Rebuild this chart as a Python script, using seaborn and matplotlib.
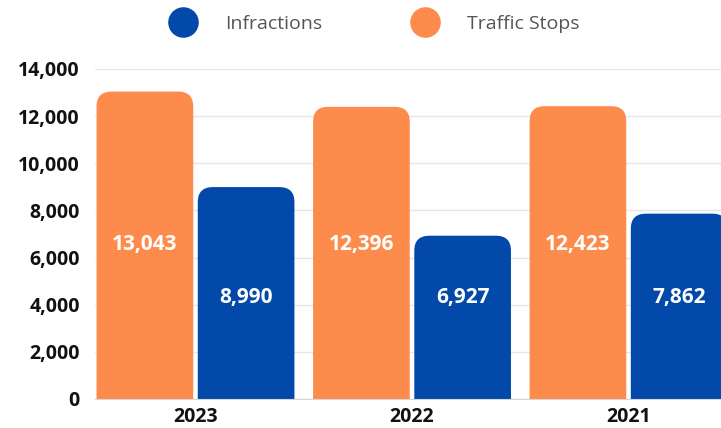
import matplotlib
matplotlib.use('Agg')
import matplotlib.pyplot as plt
import seaborn as sns
import pandas as pd
from matplotlib.patches import FancyBboxPatch
from matplotlib.lines import Line2D
from matplotlib.ticker import FuncFormatter

years = ['2023', '2022', '2021']
traffic_stops = [13043, 12396, 12423]
infractions = [8990, 6927, 7862]
series = ['Traffic Stops', 'Infractions']
colors = {'Traffic Stops': '#FD8C4C', 'Infractions': '#0249AA'}
label_y = {'Traffic Stops': 6550, 'Infractions': 4300}

df = pd.DataFrame({
    'year': years * 2,
    'series': ['Traffic Stops'] * len(years) + ['Infractions'] * len(years),
    'value': traffic_stops + infractions,
})

sns.set_style('white')
plt.rcParams['font.family'] = ['Open Sans', 'DejaVu Sans']

fig = plt.figure(figsize=(7.21, 4.28), dpi=100)
ax = fig.add_axes([0.1318, 0.0678, 0.8682, 0.771])
sns.barplot(data=df, x='year', y='value', hue='series', hue_order=series,
            palette=colors, width=0.935, gap=0.045, legend=False, ax=ax)

# swap plain rectangles for bars with rounded tops
bars = list(ax.patches)
for i, bar in enumerate(bars):
    name = series[i // len(years)]
    x, w, h = bar.get_x(), bar.get_width(), bar.get_height()
    bar.remove()
    ax.add_patch(FancyBboxPatch((x, -1500), w, h + 1500,
                                boxstyle='round,pad=0,rounding_size=0.07',
                                mutation_aspect=9000, fc=colors[name],
                                ec='none', zorder=2))
    ax.text(x + w / 2, label_y[name], f'{h:,.0f}', color='white',
            fontsize=15, fontweight='bold', ha='center', va='center', zorder=3)

ax.set_xlim(-0.464, 2.427)
ax.set_ylim(0, 14000)
ax.set_yticks(range(0, 14001, 2000))
ax.yaxis.set_major_formatter(FuncFormatter(lambda v, p: f'{v:,.0f}'))
ax.yaxis.grid(True, color='#e6e6e6', lw=1)
ax.set_axisbelow(True)
for s in ['top', 'right', 'left']:
    ax.spines[s].set_visible(False)
ax.spines['bottom'].set_color('#d6d6d6')
ax.tick_params(axis='y', length=0, pad=11, labelsize=14)
ax.tick_params(axis='x', length=0, pad=6, labelsize=14)
for lab in ax.get_xticklabels() + ax.get_yticklabels():
    lab.set_fontweight('bold')
    lab.set_color('#111111')
ax.set_xlabel('')
ax.set_ylabel('')

handles = [Line2D([], [], marker='o', ls='', ms=22, mfc=colors[n], mec='none')
           for n in ['Infractions', 'Traffic Stops']]
fig.legend(handles, ['Infractions', 'Traffic Stops'], loc='center',
           bbox_to_anchor=(374 / 721, 1 - 24 / 428), ncol=2, frameon=False,
           fontsize=14, labelcolor='#555555', handlelength=1.5,
           handletextpad=1.45, columnspacing=4.5)

fig.savefig('out.png', dpi=100)
